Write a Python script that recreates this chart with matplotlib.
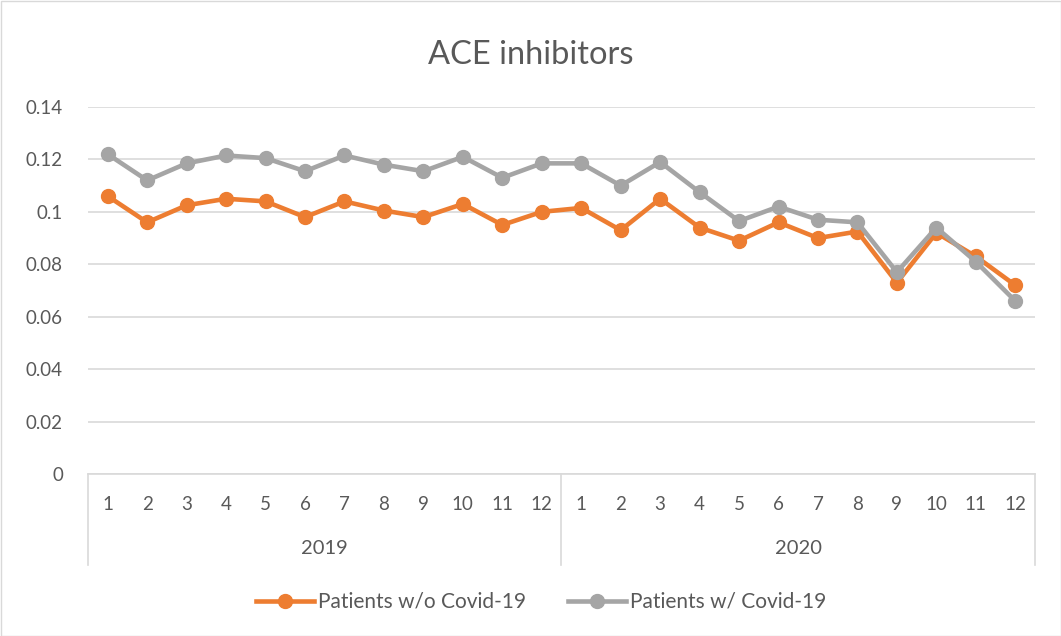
import numpy as np
import matplotlib.pyplot as plt
from matplotlib.patches import Rectangle

plt.rcParams['font.family'] = ['Lato', 'DejaVu Sans']

years = ['2019', '2020']
months = [str(m) for m in range(1, 13)]

# share of patients on ACE inhibitors per month
without_covid = [0.106, 0.096, 0.1025, 0.105, 0.104, 0.098, 0.104, 0.1005, 0.098, 0.103, 0.095, 0.100,
                 0.1015, 0.093, 0.105, 0.094, 0.089, 0.096, 0.090, 0.0925, 0.073, 0.092, 0.083, 0.072]
with_covid = [0.122, 0.112, 0.1185, 0.1215, 0.1205, 0.1155, 0.1215, 0.118, 0.1155, 0.121, 0.113, 0.1185,
              0.1185, 0.110, 0.119, 0.1075, 0.0965, 0.102, 0.097, 0.096, 0.077, 0.094, 0.081, 0.066]

orange = '#ED7D31'
gray = '#A5A5A5'
text_col = '#595959'
grid_col = '#D9D9D9'

W, H = 1061, 636
fig = plt.figure(figsize=(W / 100, H / 100), dpi=100)
fig.patches.append(Rectangle((0.5 / W, 0.5 / H), 1 - 1 / W, 1 - 1 / H, transform=fig.transFigure,
                             fill=False, edgecolor='#D9D9D9', linewidth=1))

left, right, top, bottom = 88, 1035, 107, 474
ax = fig.add_axes([left / W, 1 - bottom / H, (right - left) / W, (bottom - top) / H])

x = np.arange(len(without_covid))
ax.plot(x, without_covid, color=orange, lw=3.3, marker='o', ms=10, label='Patients w/o Covid-19', zorder=3)
ax.plot(x, with_covid, color=gray, lw=3.3, marker='o', ms=10, label='Patients w/ Covid-19', zorder=3)

ax.set_xlim(-0.5, len(x) - 0.5)
ax.set_ylim(0, 0.14)
ax.set_yticks(np.arange(0, 0.141, 0.02))
ax.set_yticklabels(['0', '0.02', '0.04', '0.06', '0.08', '0.1', '0.12', '0.14'])
ax.yaxis.grid(True, color=grid_col, lw=1.2)
ax.set_axisbelow(True)
for s in ['top', 'right', 'left']:
    ax.spines[s].set_visible(False)
ax.spines['bottom'].set_color(grid_col)
ax.spines['bottom'].set_linewidth(1.2)

ax.set_xticks(x)
ax.set_xticklabels(months * len(years))
ax.tick_params(axis='x', length=0, pad=16, labelsize=13.5, colors=text_col)
ax.tick_params(axis='y', length=0, pad=18, labelsize=13.5, colors=text_col)

# year groups below the month labels
depth = (565 - bottom) / (bottom - top)
trans = ax.get_xaxis_transform()
for b in [-0.5, 11.5, 23.5]:
    ax.plot([b, b], [0, -depth], transform=trans, color=grid_col, lw=1.2, clip_on=False)
for i, yr in enumerate(years):
    ax.text(i * 12 + 5.5, -(549 - bottom) / (bottom - top), yr, transform=trans,
            ha='center', va='center', fontsize=14.5, color=text_col)

fig.text(0.5, 1 - 55 / H, 'ACE inhibitors', ha='center', va='center', fontsize=23.5, color=text_col)

fig.legend(loc='center', bbox_to_anchor=(0.51, 1 - 602 / H), ncol=2, frameon=False,
           fontsize=15, labelcolor=text_col, handlelength=2.8, columnspacing=2, handletextpad=0.2)

fig.savefig('out.png', dpi=100)
